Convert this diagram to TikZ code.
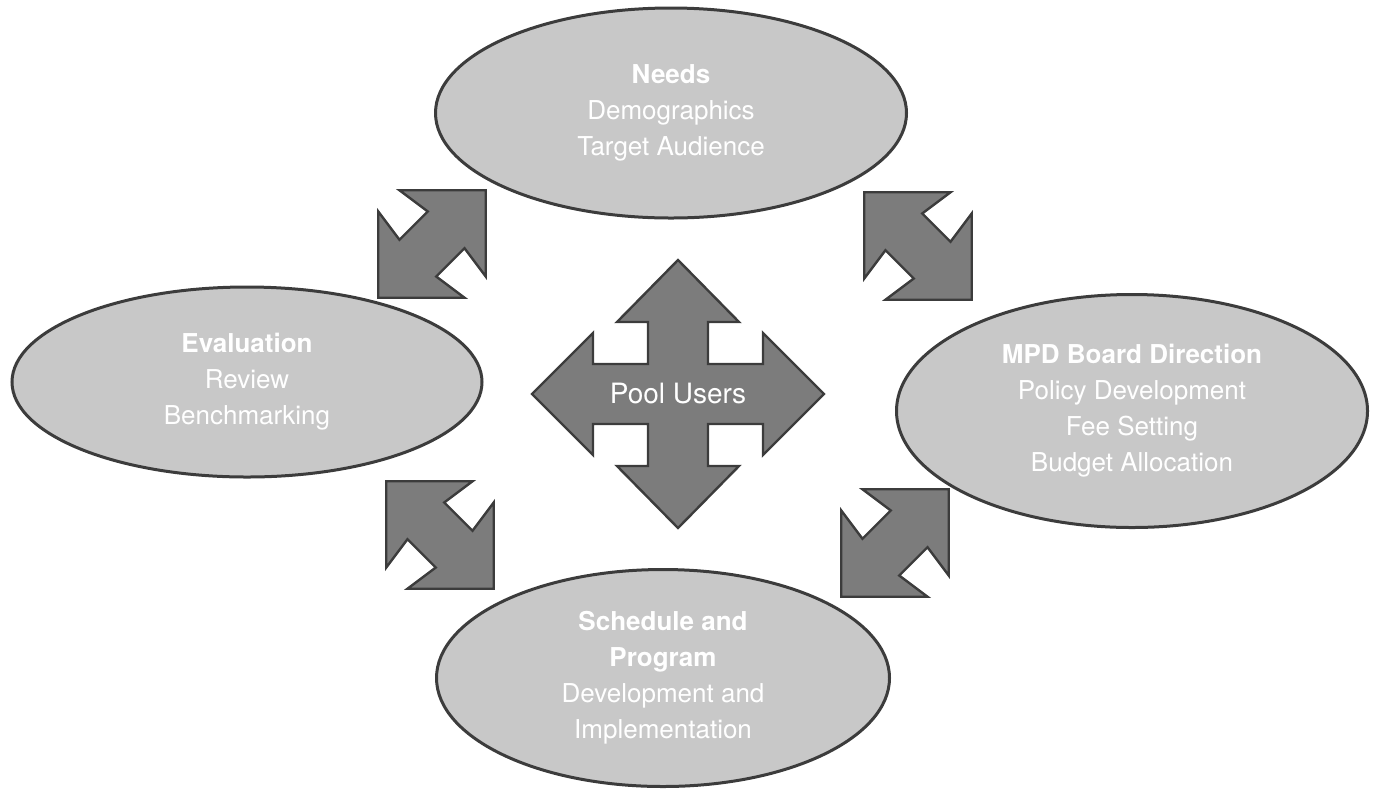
\documentclass[tikz,border=0pt]{standalone}
\usepackage{fontspec}
\setmainfont{TeX Gyre Heros}
\usetikzlibrary{shapes.geometric}

\definecolor{bubblefill}{HTML}{C8C8C8}
\definecolor{arrowfill}{HTML}{7C7C7C}
\definecolor{edgegray}{HTML}{3C3C3C}

\tikzset{
  bubble/.style={ellipse, draw=edgegray, line width=1.5pt, fill=bubblefill,
    inner sep=0pt, text=white, align=center, font=\fontsize{13}{18}\selectfont},
  arrowbody/.style={draw=edgegray, line width=1.2pt, fill=arrowfill, line join=miter},
  linkarrow/.pic={
    \draw[arrowbody] (-76,0) -- (-15,61) -- (-20,26) -- (20,26) -- (15,61)
      -- (76,0) -- (15,-61) -- (20,-26) -- (-20,-26) -- (-15,-61) -- cycle;
    \coordinate (-c) at (0,0);
  }
}

\begin{document}
\begin{tikzpicture}[x=0.5pt,y=-0.5pt]
\useasboundingbox (0,0) rectangle (1374,788);

\node[bubble, minimum width=235.5pt, minimum height=105pt] (needs) at (671,113)
  {\textbf{Needs}\\ Demographics\\ Target Audience};
\node[bubble, minimum width=235pt, minimum height=95pt] (eval) at (247,382)
  {\textbf{Evaluation}\\ Review\\ Benchmarking};
\node[bubble, minimum width=235.5pt, minimum height=116.5pt] (mpd) at (1132,411)
  {\textbf{MPD Board Direction}\\ Policy Development\\ Fee Setting\\ Budget Allocation};
\node[bubble, minimum width=226.5pt, minimum height=108.5pt] (sched) at (663,678)
  {\textbf{Schedule and}\\ \textbf{Program}\\ Development and\\ Implementation};

\pic[rotate=45] (evalneeds) at (432,244) {linkarrow};
\pic[rotate=-45] (needsmpd) at (918,246) {linkarrow};
\pic[rotate=-45] (evalsched) at (440,535) {linkarrow};
\pic[rotate=45] (schedmpd) at (895,543) {linkarrow};

\draw[arrowbody, shift={(678,394)}]
  (-146,0) -- (-85,-61) -- (-85,-30) -- (-30,-30) -- (-30,-72) -- (-61,-72)
  -- (0,-134) -- (61,-72) -- (30,-72) -- (30,-30) -- (85,-30) -- (85,-61)
  -- (146,0) -- (85,61) -- (85,30) -- (30,30) -- (30,72) -- (61,72)
  -- (0,134) -- (-61,72) -- (-30,72) -- (-30,30) -- (-85,30) -- (-85,61) -- cycle;
\node[text=white, font=\fontsize{14}{17}\selectfont] (pool) at (678,394) {Pool Users};
\end{tikzpicture}
\end{document}
